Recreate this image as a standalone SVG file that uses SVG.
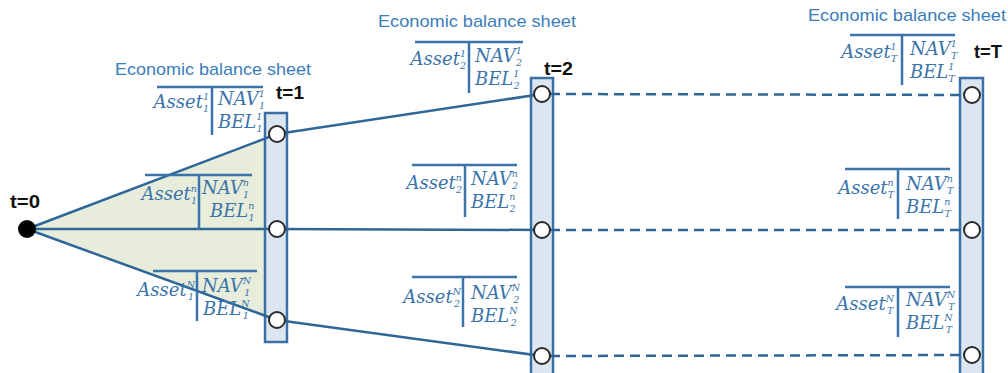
<svg xmlns="http://www.w3.org/2000/svg" width="1008" height="373" viewBox="0 0 1008 373">
<defs>
<style>
.bar{fill:#dce6f1;stroke:#3a70a5;stroke-width:2.5}
.ln{stroke:#2e6797;stroke-width:2.5;fill:none}
.dash{stroke:#2e6797;stroke-width:2.5;fill:none;stroke-dasharray:10 6}
.node{fill:#fff;stroke:#2a2a2a;stroke-width:2}
.title{font-family:"Liberation Sans",Arial,sans-serif;font-size:17px;fill:#3b7dba}
.tl{font-family:"Liberation Sans",Arial,sans-serif;font-size:18px;font-weight:bold;fill:#111}
.m{font-family:"DejaVu Serif","Liberation Serif",serif;font-style:italic;font-size:18px;fill:#3a74aa}
.s{font-size:9.5px}
.tee{stroke:#3a74aa;stroke-width:2.5;fill:none}
</style>
</defs>
<rect width="1008" height="373" fill="#fff"/>
<polygon points="27,229 265,139 265,315" fill="#e7ecdb"/>

<g id="bar1"><rect class="bar" x="265" y="113" width="22" height="229"/></g>
<g id="bar2"><rect class="bar" x="531" y="78" width="22" height="305"/></g>
<g id="barT"><rect class="bar" x="960" y="78" width="23" height="305"/></g>

<g id="connectors">
<line class="ln" x1="27" y1="229" x2="277" y2="134"/>
<line class="ln" x1="27" y1="229" x2="277" y2="229"/>
<line class="ln" x1="27" y1="229" x2="277" y2="320"/>
<line class="ln" x1="277" y1="134" x2="542" y2="94"/>
<line class="ln" x1="277" y1="229" x2="542" y2="230"/>
<line class="ln" x1="277" y1="320" x2="542" y2="356"/>
<line class="dash" x1="550" y1="94" x2="964" y2="95"/>
<line class="dash" x1="550" y1="230" x2="964" y2="230"/>
<line class="dash" x1="550" y1="356" x2="964" y2="355"/>
</g>

<g id="t0"><circle cx="27" cy="229" r="9" fill="#000"/><text class="tl" x="10" y="208" textLength="30" lengthAdjust="spacingAndGlyphs">t=0</text></g>
<g id="nodes1">
<circle class="node" cx="277" cy="134" r="8"/>
<circle class="node" cx="277" cy="229" r="8"/>
<circle class="node" cx="277" cy="320" r="8"/>
</g>
<g id="nodes2">
<circle class="node" cx="542" cy="94" r="8"/>
<circle class="node" cx="542" cy="230" r="8"/>
<circle class="node" cx="542" cy="356" r="8"/>
</g>
<g id="nodesT">
<circle class="node" cx="972" cy="95" r="8"/>
<circle class="node" cx="972" cy="230" r="8"/>
<circle class="node" cx="972" cy="355" r="8"/>
</g>

<g id="labels">
<text class="tl" x="276" y="99" textLength="28" lengthAdjust="spacingAndGlyphs">t=1</text>
<text class="tl" x="544" y="75" textLength="29" lengthAdjust="spacingAndGlyphs">t=2</text>
<text class="tl" x="974" y="58" textLength="28" lengthAdjust="spacingAndGlyphs">t=T</text>
<text class="title" x="115" y="75" textLength="196" lengthAdjust="spacingAndGlyphs">Economic balance sheet</text>
<text class="title" x="378" y="27" textLength="198" lengthAdjust="spacingAndGlyphs">Economic balance sheet</text>
<text class="title" x="808" y="21" textLength="198" lengthAdjust="spacingAndGlyphs">Economic balance sheet</text>
</g>

<g id="sheet-1-1" transform="translate(212,87)">
<path class="tee" d="M-55,0H51M0,0V48"/>
<text class="m" x="-3" y="21" text-anchor="end">Asset<tspan class="s" dy="-8">1</tspan><tspan class="s" dx="-6" dy="12">1</tspan></text>
<text class="m" x="6" y="18">NAV<tspan class="s" dy="-8">1</tspan><tspan class="s" dx="-6" dy="12">1</tspan></text>
<text class="m" x="6" y="41">BEL<tspan class="s" dy="-8">1</tspan><tspan class="s" dx="-6" dy="12">1</tspan></text>
</g>
<g id="sheet-1-n" transform="translate(199,175)">
<path class="tee" d="M-54,0H53M0,0V55"/>
<text class="m" x="-2" y="25" text-anchor="end">Asset<tspan class="s" dy="-8">n</tspan><tspan class="s" dx="-6" dy="12">1</tspan></text>
<text class="m" x="3" y="19">NAV<tspan class="s" dy="-8">n</tspan><tspan class="s" dx="-6" dy="12">1</tspan></text>
<text class="m" x="11" y="42">BEL<tspan class="s" dy="-8">n</tspan><tspan class="s" dx="-6" dy="12">1</tspan></text>
</g>
<g id="sheet-1-N" transform="translate(197,271)">
<path class="tee" d="M-44,0H60M0,0V50"/>
<text class="m" x="-2" y="25" text-anchor="end">Asset<tspan class="s" dy="-8">N</tspan><tspan class="s" dx="-7" dy="12">1</tspan></text>
<text class="m" x="5" y="21">NAV<tspan class="s" dy="-8">N</tspan><tspan class="s" dx="-7" dy="12">1</tspan></text>
<text class="m" x="6" y="44">BEL<tspan class="s" dy="-8">N</tspan><tspan class="s" dx="-7" dy="12">1</tspan></text>
</g>

<g id="sheet-2-1" transform="translate(469,42)">
<path class="tee" d="M-54,0H54M0,0V51"/>
<text class="m" x="-3" y="23" text-anchor="end">Asset<tspan class="s" dy="-8">1</tspan><tspan class="s" dx="-6" dy="12">2</tspan></text>
<text class="m" x="6" y="20">NAV<tspan class="s" dy="-8">1</tspan><tspan class="s" dx="-6" dy="12">2</tspan></text>
<text class="m" x="6" y="43">BEL<tspan class="s" dy="-8">1</tspan><tspan class="s" dx="-6" dy="12">2</tspan></text>
</g>
<g id="sheet-2-n" transform="translate(465,165)">
<path class="tee" d="M-53,0H52M0,0V52"/>
<text class="m" x="-3" y="24" text-anchor="end">Asset<tspan class="s" dy="-8">n</tspan><tspan class="s" dx="-6" dy="12">2</tspan></text>
<text class="m" x="6" y="20">NAV<tspan class="s" dy="-8">n</tspan><tspan class="s" dx="-6" dy="12">2</tspan></text>
<text class="m" x="6" y="43">BEL<tspan class="s" dy="-8">n</tspan><tspan class="s" dx="-6" dy="12">2</tspan></text>
</g>
<g id="sheet-2-N" transform="translate(463,277)">
<path class="tee" d="M-51,0H54M0,0V50"/>
<text class="m" x="-2" y="26" text-anchor="end">Asset<tspan class="s" dy="-8">N</tspan><tspan class="s" dx="-7" dy="12">2</tspan></text>
<text class="m" x="8" y="22">NAV<tspan class="s" dy="-8">N</tspan><tspan class="s" dx="-7" dy="12">2</tspan></text>
<text class="m" x="8" y="45">BEL<tspan class="s" dy="-8">N</tspan><tspan class="s" dx="-7" dy="12">2</tspan></text>
</g>

<g id="sheet-T-1" transform="translate(902,35)">
<path class="tee" d="M-52,0H53M0,0V50"/>
<text class="m" x="-5" y="23" text-anchor="end">Asset<tspan class="s" dy="-8">1</tspan><tspan class="s" dx="-6" dy="12">T</tspan></text>
<text class="m" x="8" y="20">NAV<tspan class="s" dy="-8">1</tspan><tspan class="s" dx="-6" dy="12">T</tspan></text>
<text class="m" x="8" y="43">BEL<tspan class="s" dy="-8">1</tspan><tspan class="s" dx="-6" dy="12">T</tspan></text>
</g>
<g id="sheet-T-n" transform="translate(898,169)">
<path class="tee" d="M-53,0H52M0,0V50"/>
<text class="m" x="-4" y="25" text-anchor="end">Asset<tspan class="s" dy="-8">n</tspan><tspan class="s" dx="-6" dy="12">T</tspan></text>
<text class="m" x="8" y="21">NAV<tspan class="s" dy="-8">n</tspan><tspan class="s" dx="-6" dy="12">T</tspan></text>
<text class="m" x="8" y="44">BEL<tspan class="s" dy="-8">n</tspan><tspan class="s" dx="-6" dy="12">T</tspan></text>
</g>
<g id="sheet-T-N" transform="translate(898,287)">
<path class="tee" d="M-53,0H52M0,0V50"/>
<text class="m" x="-4" y="23" text-anchor="end">Asset<tspan class="s" dy="-8">N</tspan><tspan class="s" dx="-7" dy="12">T</tspan></text>
<text class="m" x="8" y="19">NAV<tspan class="s" dy="-8">N</tspan><tspan class="s" dx="-7" dy="12">T</tspan></text>
<text class="m" x="8" y="42">BEL<tspan class="s" dy="-8">N</tspan><tspan class="s" dx="-7" dy="12">T</tspan></text>
</g>
</svg>
